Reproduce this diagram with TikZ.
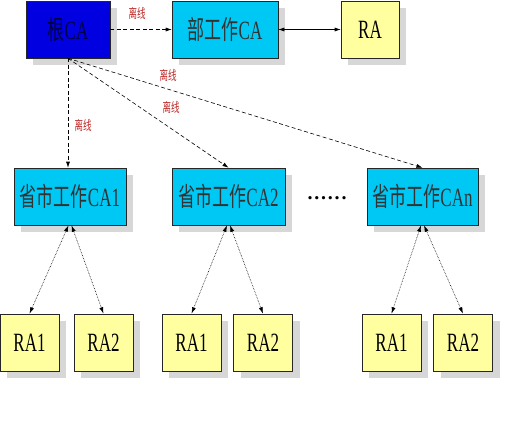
\documentclass[tikz,border=0pt]{standalone}
\usepackage{fontspec}
\usepackage{graphicx}
\setmainfont{Liberation Serif}
\newfontfamily\cjk{Noto Sans CJK SC}
\usetikzlibrary{arrows.meta,shadows}
\definecolor{rootblue}{RGB}{0,0,225}
\definecolor{rootText}{RGB}{0,0,70}
\definecolor{cacyan}{RGB}{0,200,245}
\definecolor{rayellow}{RGB}{255,255,160}
\definecolor{shadowgray}{RGB}{215,215,215}
\definecolor{labelred}{RGB}{190,40,40}
\newcommand{\tallText}[1]{\scalebox{1}[1.55]{#1}}
\tikzset{
  box/.style={draw=black!85, line width=0.6pt, inner sep=0pt, minimum height=57pt,
    font=\fontsize{17}{17}\selectfont,
    drop shadow={shadow xshift=7pt, shadow yshift=-7pt, fill=shadowgray, opacity=1}},
  rootbox/.style={box, fill=rootblue, text=rootText, minimum width=84pt},
  cabox/.style={box, fill=cacyan, text=black!80, minimum width=112pt},
  rabox/.style={box, fill=rayellow, text=black, minimum width=59pt},
  offline/.style={->, dash pattern=on 4pt off 2.5pt, line width=0.6pt, >={Latex[length=6pt,width=4pt]}},
  link/.style={{Latex[length=6pt,width=4pt]}-{Latex[length=6pt,width=4pt]}, line width=0.6pt},
  dotlink/.style={{Latex[length=6.5pt,width=4pt]}-{Latex[length=6.5pt,width=4pt]}, densely dotted, line width=0.6pt},
  lbl/.style={text=labelred, inner sep=0pt, font=\cjk\fontsize{8.5}{8.5}\selectfont}
}
\begin{document}
\begin{tikzpicture}[x=1pt,y=-1pt]
\fill[white] (0,0) rectangle (529,421);
\useasboundingbox (0,0) rectangle (529,421);
% top row
\node[rootbox] (root) at (68,29.5) {\tallText{{\cjk 根}CA}};
\node[cabox, minimum width=106pt] (dep) at (225,29.5) {\tallText{{\cjk 部工作}CA}};
\node[rabox, minimum width=58pt] (ra) at (370,29.5) {\tallText{RA}};
% province row
\node[cabox] (ca1) at (70,196.5) {\tallText{{\cjk 省市工作}CA1}};
\node[cabox, minimum width=113pt] (ca2) at (228.5,196.5) {\tallText{{\cjk 省市工作}CA2}};
\node[cabox, minimum width=111pt] (can) at (422.5,196.5) {\tallText{{\cjk 省市工作}CAn}};
\node[inner sep=0pt, font=\fontsize{20}{20}\selectfont\bfseries] (dots) at (327,198)
  {.\hspace{1.8pt}.\hspace{1.8pt}.\hspace{1.8pt}.\hspace{1.8pt}.\hspace{1.8pt}.};
% RA row
\node[rabox] (g1a) at (29.5,342.5) {\tallText{RA1}};
\node[rabox] (g1b) at (103.5,342.5) {\tallText{RA2}};
\node[rabox] (g2a) at (191.5,342.5) {\tallText{RA1}};
\node[rabox] (g2b) at (263,342.5) {\tallText{RA2}};
\node[rabox] (g3a) at (391.5,342.5) {\tallText{RA1}};
\node[rabox] (g3b) at (463,342.5) {\tallText{RA2}};
% connectors
\draw[offline] (root.east) -- (dep.west);
\draw[link] (dep.east) -- (ra.west);
\draw[offline] (root.south) -- (ca1.north -| root.south);
\draw[offline] (root.south) -- (ca2.north);
\draw[offline] (root.south) -- (can.north);
\draw[dotlink] ([xshift=-1.5pt]ca1.south) -- (g1a.north);
\draw[dotlink] ([xshift=1.5pt]ca1.south) -- (g1b.north);
\draw[dotlink] ([xshift=-1.5pt]ca2.south) -- (g2a.north);
\draw[dotlink] ([xshift=1.5pt]ca2.south) -- (g2b.north);
\draw[dotlink] ([xshift=-1.5pt]can.south) -- (g3a.north);
\draw[dotlink] ([xshift=1.5pt]can.south) -- (g3b.north);
% labels
\node[lbl] (l1) at (137,13) {\tallText{离线}};
\node[lbl] (l2) at (83,125) {\tallText{离线}};
\node[lbl] (l3) at (171,107) {\tallText{离线}};
\node[lbl] (l4) at (168,75) {\tallText{离线}};
\end{tikzpicture}
\end{document}
